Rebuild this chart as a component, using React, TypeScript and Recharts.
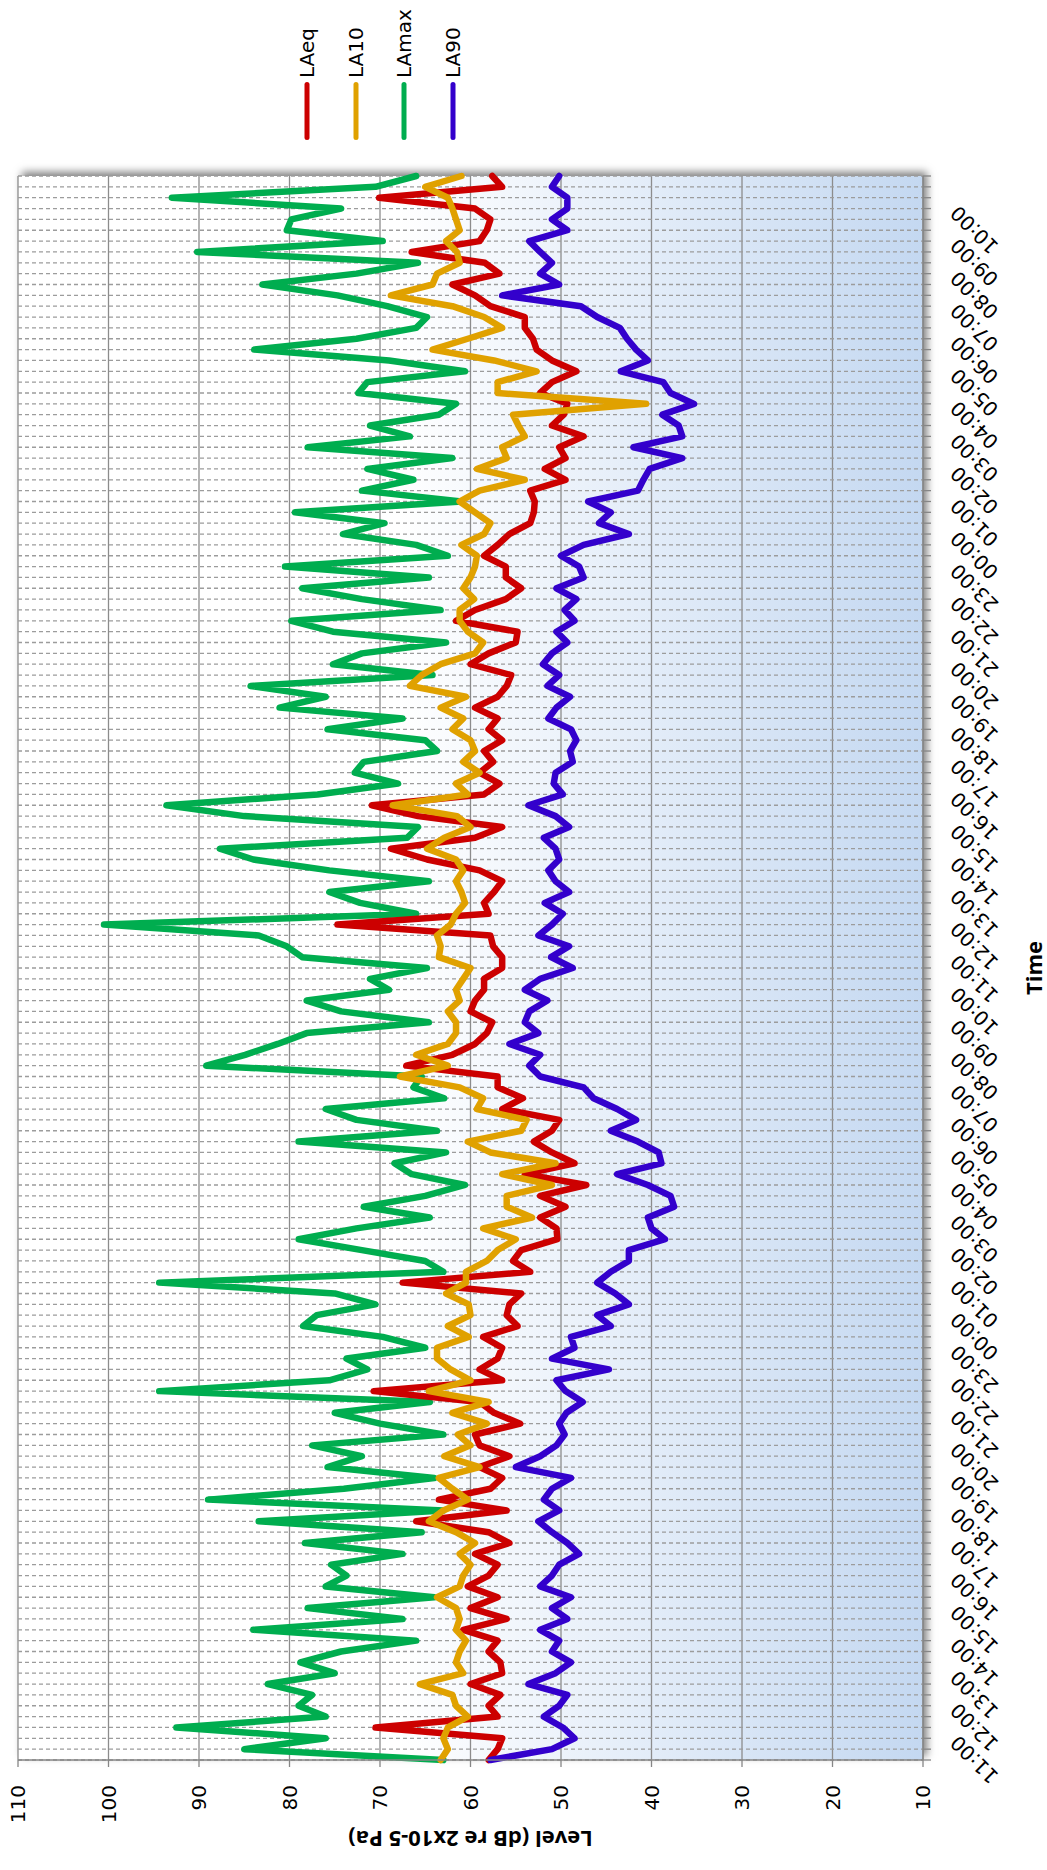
import React from "react";
import { LineChart, Line, XAxis, YAxis, CartesianGrid, Legend } from "recharts";

// hour labels on the time axis, one every 3 points (points are 20 min apart)
const hourLabels = [
  "11:00", "12:00", "13:00", "14:00", "15:00", "16:00", "17:00", "18:00",
  "19:00", "20:00", "21:00", "22:00", "23:00", "00:00", "01:00", "02:00",
  "03:00", "04:00", "05:00", "06:00", "07:00", "08:00", "09:00", "10:00",
  "11:00", "12:00", "13:00", "14:00", "15:00", "16:00", "17:00", "18:00",
  "19:00", "20:00", "21:00", "22:00", "23:00", "00:00", "01:00", "02:00",
  "03:00", "04:00", "05:00", "06:00", "07:00", "08:00", "09:00", "10:00",
];
const firstLabelAt = 2; // first reading is 10:20

const levelTicks = [10, 20, 30, 40, 50, 60, 70, 80, 90, 100, 110];

const laeq = [
  58, 57, 56.5, 70.5, 57, 58, 56.7, 60, 56.5, 56.7,
  58, 57, 60.8, 56, 60, 57, 60.3, 58, 57, 59.5,
  55.7, 58, 66, 56, 63.5, 57.8, 56.5, 59, 55.7, 59,
  59.5, 54.5, 57.4, 59, 70.7, 56.5, 59, 57, 56.5, 58.6,
  54.8, 56, 55.7, 54.4, 67.5, 53.4, 55.3, 54.4, 50.4, 50.5,
  52.3, 49.5, 52.3, 47.2, 54, 48.5, 51, 53, 51, 50.2,
  56.5, 54.2, 57, 57, 67.1, 62, 59.5, 58.2, 57.6, 60,
  59.5, 58.5, 58.5, 56.5, 56.5, 57.5, 57.8, 74.7, 58, 58.5,
  57.4, 56.5, 59, 64.8, 68.8, 59.5, 56.5, 65.8, 70.9, 58.5,
  56.8, 59, 57.5, 58.5, 56.5, 58, 57, 59.5, 57, 56,
  55.5, 60, 58, 55, 54.8, 61.6, 59.5, 56.1, 54.4, 56.1,
  56.1, 58.5, 57, 55.7, 53.4, 53, 52.9, 53.4, 49.5, 51.8,
  49.5, 50.2, 47.5, 51, 49.7, 49.3, 52.3, 51, 48.3, 51,
  52.7, 53.1, 54, 54, 57.8, 59.5, 62, 56.8, 58.4, 66.5,
  59, 58.2, 57.8, 59.5, 70.1, 56.5, 57.6,
];

const la10 = [
  63.3, 62.5, 63, 62.5, 60.3, 61.6, 62, 65.6, 60.8, 61.6,
  61.2, 60.5, 61.6, 61.2, 61.6, 63.7, 61.2, 60.8, 60, 61.2,
  59.5, 61.6, 64.6, 63, 60.3, 62, 63.5, 59, 62.9, 60,
  61.4, 58.2, 62, 58, 64.6, 60, 62.2, 63.7, 63.7, 60.2,
  62.5, 60, 60.2, 62.7, 60.5, 60.5, 58.2, 57, 55, 58.6,
  53.2, 56, 56, 51, 56.5, 50.6, 57.8, 60.3, 54.4, 53.8,
  59.3, 58.6, 61.2, 67.8, 62.5, 66, 62.5, 61.6, 61.6, 62.5,
  61.2, 61.6, 60.8, 60, 63.5, 63.3, 63.7, 62.2, 61.6, 60.6,
  61, 61.6, 60.8, 61.6, 64.8, 62.9, 60, 61.5, 68.6, 60.3,
  61.6, 59, 60.8, 59.5, 60, 62, 60.8, 63.3, 60.5, 66.7,
  65.4, 63.3, 59.5, 58.6, 60.3, 61.2, 61.2, 59.6, 60.8, 60,
  59.5, 59.3, 61, 58.5, 57.8, 59.5, 61.2, 59, 54, 59.3,
  56, 56.5, 54, 54.7, 55.3, 40.6, 57, 57, 52.7, 57.4,
  64.2, 60.3, 56.5, 58.5, 62, 68.8, 64.2, 63.7, 61.2, 61.5,
  62.7, 61.2, 61.6, 62, 62.5, 65, 61,
];

const lamax = [
  63, 85, 76, 92.5, 76, 79, 77.5, 82.4, 75, 78.8,
  74.3, 66, 84, 67.5, 78, 64, 76, 73.7, 75.4, 67.5,
  78.3, 65.4, 83.4, 63, 89, 74, 64, 75.8, 72, 77.5,
  63, 70, 75, 64.5, 94.4, 75.6, 71.4, 73.7, 65, 69.7,
  78.5, 77, 70.5, 75, 94.4, 63, 65, 72, 79, 72.6,
  64.5, 71.8, 65, 60.6, 66.5, 68.4, 62.7, 79, 63.7, 72.6,
  76, 62.9, 66.3, 65.4, 89.2, 84.9, 81.3, 78.1, 64.6, 74.3,
  78.1, 69, 71.1, 64.8, 78.6, 80.3, 83.4, 100.5, 66, 72.2,
  75.6, 64.6, 75.6, 84, 87.7, 67, 65.8, 85, 93.6, 76.9,
  68, 72.8, 71.8, 63.7, 65, 75.8, 67.5, 81.1, 76, 84.3,
  64.2, 75.2, 72, 62.7, 75.2, 79.8, 63.3, 72, 78.6, 64.6,
  80.5, 62.5, 66, 74.1, 69.5, 79.4, 61, 72, 66.3, 71.4,
  62, 78, 66.7, 71.1, 63.5, 61.6, 72.4, 71.4, 60.6, 69,
  83.9, 72.6, 66, 64.8, 69.2, 74.7, 83, 72.6, 65.8, 90.2,
  69.7, 80.3, 79.8, 74.3, 93, 70.5, 66,
];

const la90 = [
  57.8, 51, 48.5, 49.8, 51.9, 50.2, 49.3, 53.6, 50.6, 48.9,
  51, 50.2, 52.3, 49.3, 51, 48.9, 52.3, 51, 50.2, 48,
  49.3, 51, 52.5, 50.2, 51.9, 51, 48.9, 55, 52.3, 50.5,
  49.6, 50.2, 49.4, 47.6, 49.5, 50.5, 44.7, 51, 48.5, 48.9,
  44.5, 46, 42.5, 44, 46, 44.5, 42.5, 42.5, 38.5, 40,
  40.4, 37.5, 37.9, 40.4, 43.8, 38.9, 39.2, 41.5, 44.5, 41.7,
  43.8, 46.4, 47.5, 52.3, 53.5, 52.3, 55.7, 52.5, 54, 53.5,
  51.5, 54, 52.3, 48.7, 51.1, 49.1, 52.5, 51, 49.8, 51.8,
  49.1, 50.6, 51.4, 50.2, 50.6, 51.9, 49.1, 50.6, 53.6, 49.8,
  50.8, 50.6, 48.7, 49, 48.3, 48.9, 51.4, 50.5, 49, 51.5,
  50.2, 52, 51, 49.3, 50.5, 48.5, 49.6, 48.3, 50.5, 47.5,
  48, 50, 47.5, 42.5, 45.8, 44.5, 47, 41.5, 40.9, 40.2,
  36.6, 42, 36.6, 37, 38.8, 35.3, 37.9, 38.7, 43.4, 40.4,
  41.7, 42.7, 43.5, 46, 47.8, 56.5, 50.2, 52.3, 51, 52.3,
  53.5, 49.3, 51, 49.3, 49.3, 51, 50.2,
];

const series = [
  { key: "LAeq", color: "#CC0000" },
  { key: "LA10", color: "#E0A100" },
  { key: "LAmax", color: "#00AD4F" },
  { key: "LA90", color: "#3300CC" },
];
// LAmax goes underneath the others
const drawOrder = ["LAmax", "LAeq", "LA10", "LA90"];

const data = laeq.map((v, i) => ({
  t: i,
  LAeq: v,
  LA10: la10[i],
  LAmax: lamax[i],
  LA90: la90[i],
}));

const W = 1870;
const H = 1047;
const margin = { top: 18, right: 176, bottom: 0, left: 0 };
const yAxisWidth = 110;
const xAxisHeight = H - margin.top - 905;

const TimeTick = (props: any) => {
  const { x, y, payload } = props;
  const k = payload.value - firstLabelAt;
  const label = k >= 0 && k % 3 === 0 ? hourLabels[k / 3] : undefined;
  if (!label) return <g />;
  const ax = x + 4;
  const ay = y + 26;
  return (
    <text
      x={ax}
      y={ay}
      transform={`rotate(-45 ${ax} ${ay})`}
      textAnchor="end"
      fontSize={20}
      fontFamily="DejaVu Sans"
      fill="#000"
    >
      {label}
    </text>
  );
};

const YTitle = (props: any) => {
  const vb = props.viewBox || { x: 0, y: margin.top, width: yAxisWidth, height: 905 };
  const cx = vb.x + 30;
  const cy = vb.y + vb.height / 2;
  return (
    <text
      x={cx}
      y={cy}
      transform={`rotate(-90 ${cx} ${cy})`}
      textAnchor="middle"
      dominantBaseline="central"
      fontSize={22}
      fontWeight={700}
      fontFamily="Open Sans"
      fill="#000"
    >
      Level (dB re 2x10-5 Pa)
    </text>
  );
};

const XTitle = (props: any) => {
  const vb = props.viewBox || { x: yAxisWidth, y: margin.top + 905, width: 1584, height: xAxisHeight };
  const cx = vb.x + vb.width / 2;
  const cy = vb.y + 110;
  return (
    <text
      x={cx}
      y={cy}
      textAnchor="middle"
      dominantBaseline="central"
      fontSize={22}
      fontWeight={700}
      fontFamily="Open Sans"
      fill="#000"
    >
      Time
    </text>
  );
};

const LegendBox = () => (
  <div style={{ display: "flex", flexDirection: "column" }}>
    {series.map((s) => (
      <div key={s.key} style={{ display: "flex", alignItems: "center", height: 48.5 }}>
        <svg width={62} height={10}>
          <line x1={4.5} y1={5} x2={57.5} y2={5} stroke={s.color} strokeWidth={5} strokeLinecap="round" />
        </svg>
        <span style={{ marginLeft: 2, fontSize: 20, fontFamily: "DejaVu Sans", color: "#000" }}>{s.key}</span>
      </div>
    ))}
  </div>
);

export default function App() {
  const colorOf = (k: string) => series.find((s) => s.key === k)!.color;
  return (
    <div style={{ position: "absolute", left: 0, top: 0, width: H, height: W, overflow: "hidden", background: "#fff" }}>
      <div
        style={{
          position: "absolute",
          left: 0,
          top: 0,
          width: W,
          height: H,
          transformOrigin: "0 0",
          transform: `translateY(${W}px) rotate(-90deg)`,
          fontFamily: "DejaVu Sans",
        }}
      >
        {/* plot frame shadow */}
        <div
          style={{
            position: "absolute",
            left: yAxisWidth,
            top: margin.top,
            width: W - yAxisWidth - margin.right,
            height: 905,
            background: "#fff",
            boxShadow: "4px 4px 8px rgba(0,0,0,0.5)",
          }}
        />
        <div style={{ position: "absolute", left: 0, top: 0 }}>
          <LineChart width={W} height={H} data={data} margin={margin}>
            <defs>
              <linearGradient id="plotBg" x1="0" y1="0" x2="0" y2="1">
                <stop offset="0%" stopColor="#ffffff" />
                <stop offset="42%" stopColor="#ffffff" />
                <stop offset="100%" stopColor="#C4D8F1" />
              </linearGradient>
            </defs>
            <CartesianGrid vertical={false} stroke="#8c8c8c" strokeWidth={1.3} fill="url(#plotBg)" fillOpacity={1} />
            <CartesianGrid horizontal={false} stroke="#9c9c9c" strokeWidth={1.3} strokeDasharray="4 3" />
            <XAxis
              dataKey="t"
              type="number"
              domain={[0, data.length - 1]}
              ticks={data.map((d) => d.t)}
              interval={0}
              height={xAxisHeight}
              tickSize={8}
              tickMargin={2}
              axisLine={{ stroke: "#868686", strokeWidth: 1.3 }}
              tickLine={{ stroke: "#868686", strokeWidth: 1.3 }}
              tick={(p: any) => <TimeTick {...p} />}
              label={<XTitle />}
            />
            <YAxis
              type="number"
              domain={[10, 110]}
              ticks={levelTicks}
              interval={0}
              width={yAxisWidth}
              tickSize={7}
              tickMargin={18}
              axisLine={{ stroke: "#868686", strokeWidth: 1.3 }}
              tickLine={{ stroke: "#868686", strokeWidth: 1.3 }}
              tick={{ fontSize: 20, fill: "#000", fontFamily: "DejaVu Sans" }}
              label={<YTitle />}
            />
            <Legend
              layout="horizontal"
              verticalAlign="middle"
              align="center"
              content={() => <LegendBox />}
              wrapperStyle={{ left: 1728, top: 283, width: 140 }}
            />
            {drawOrder.map((k) => (
              <Line
                key={k}
                type="linear"
                dataKey={k}
                stroke={colorOf(k)}
                strokeWidth={6.5}
                strokeLinejoin="round"
                strokeLinecap="round"
                dot={false}
                activeDot={false}
                isAnimationActive={false}
              />
            ))}
          </LineChart>
        </div>
      </div>
    </div>
  );
}
